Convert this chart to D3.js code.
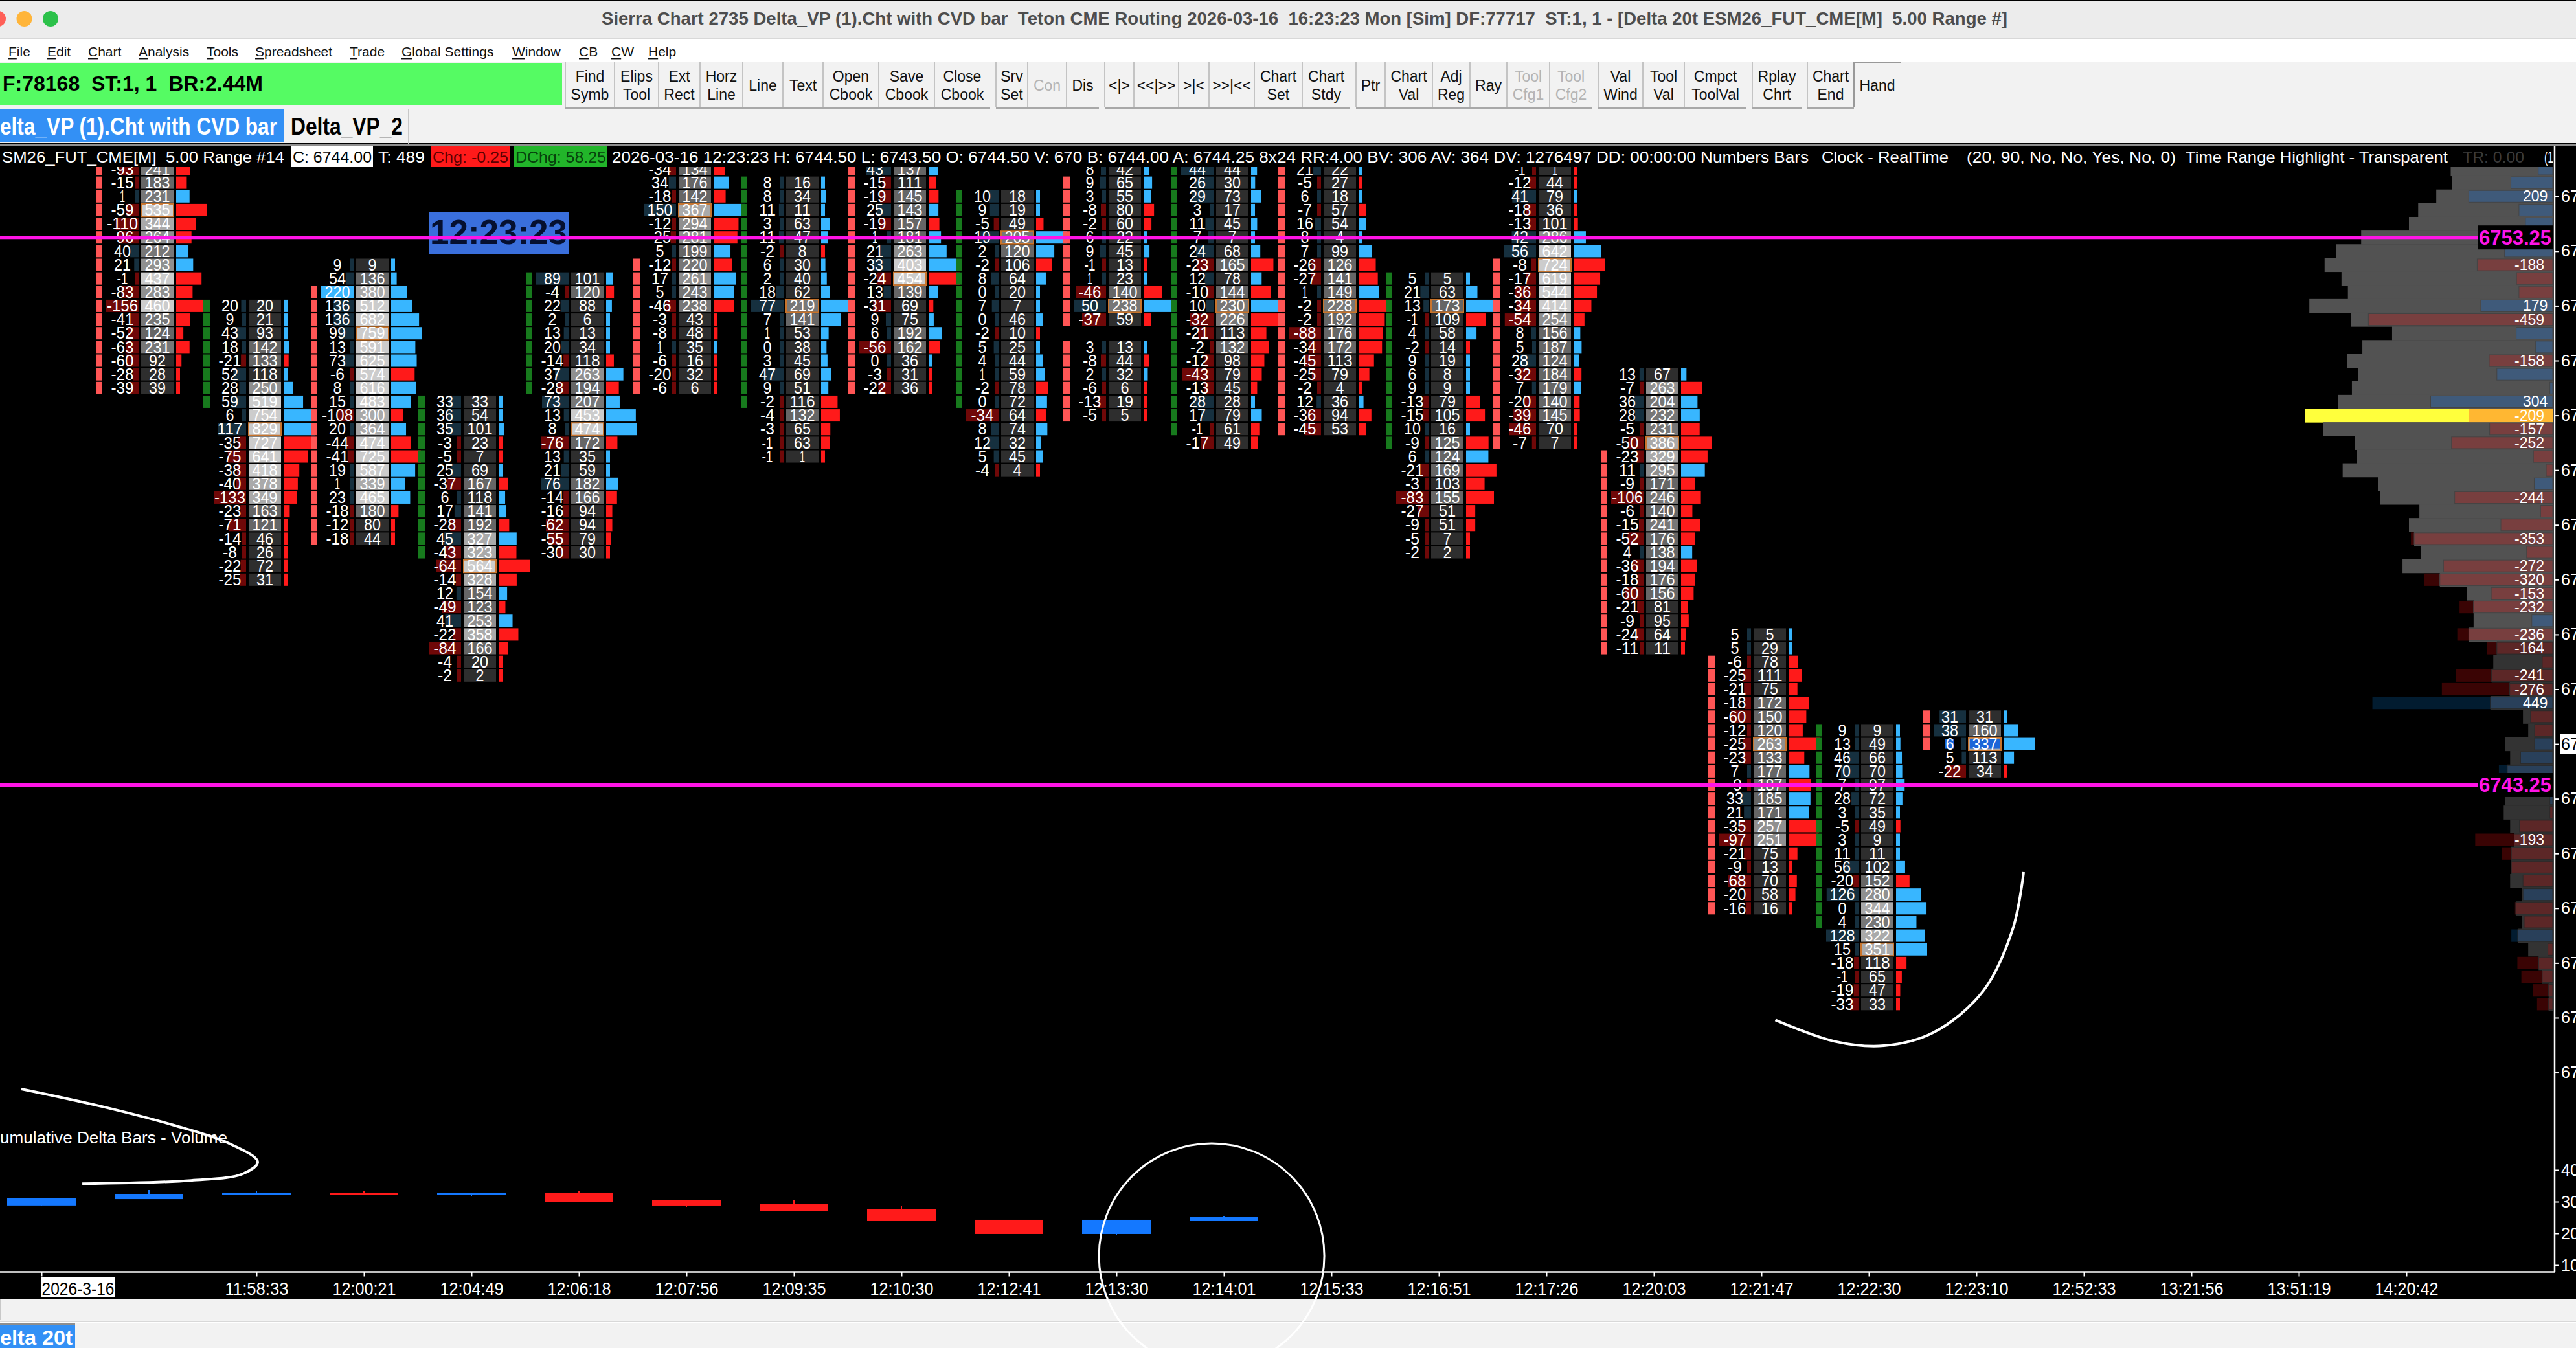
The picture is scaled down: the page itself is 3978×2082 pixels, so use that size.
<!DOCTYPE html>
<html>
<head>
<meta charset="utf-8">
<script src="https://cdn.jsdelivr.net/npm/d3@7"></script>
<style>
  html, body { margin: 0; padding: 0; background: #000; overflow: hidden; }
  svg { display: block; }
  text { font-family: "Liberation Sans", Arial, sans-serif; white-space: pre; }
</style>
</head>
<body>
<script>
// footprint bars, left to right. each list runs down from the bar's top price in 0.25 steps
var barHighs = [6754.5, 6752, 6752.75, 6750.25, 6752.5, 6754.5, 6754.25, 6754.5, 6754, 6754.5, 6754.5, 6754.5, 6752.5, 6754.5, 6750.75, 6746, 6744.25, 6744.5];
var barDeltas = [
  [-93, -15, 1, -59, -110, -96, 40, 21, -1, -83, -156, -41, -52, -63, -60, -28, -39],
  [20, 9, 43, 18, -21, 52, 28, 59, 6, 117, -35, -75, -38, -40, -133, -23, -71, -14, -8, -22, -25],
  [9, 54, 220, 136, 136, 99, 13, 73, -6, 8, 15, -108, 20, -44, -41, 19, 1, 23, -18, -12, -18],
  [33, 36, 35, -3, -5, 25, -37, 6, 17, -28, 45, -43, -64, -14, 12, -49, 41, -22, -84, -4, -2],
  [89, -4, 22, 2, 13, 20, -14, 37, -28, 73, 13, 8, -76, 13, 21, 76, -14, -16, -62, -55, -30],
  [-34, 34, -18, 150, -12, -25, 5, -12, 17, 5, -46, -3, -8, 1, -6, -20, -6],
  [8, 8, 11, 3, 11, -2, 6, 2, 18, 77, 7, 1, 0, 3, 47, 9, -2, -4, -3, -1, -1],
  [43, -15, -19, 25, -19, 1, 21, 33, -24, 13, -31, 9, 6, -56, 0, -3, -22],
  [10, 9, -5, 19, 2, -2, 8, 0, 7, 0, -2, 5, 4, 1, -2, 0, -34, 8, 12, 5, -4],
  [8, 9, 3, -8, -2, 6, 9, -1, 1, -46, 50, -37, null, 3, -8, 2, -6, -13, -5],
  [44, 26, 29, 3, 11, 7, 24, -23, 12, -10, 10, -32, -21, -2, -12, -43, -13, 28, 17, -1, -17],
  [21, -5, 6, -7, 16, 8, 7, -26, -27, 1, -2, -2, -88, -34, -45, -25, -2, 12, -36, -45],
  [5, 21, 13, -1, 4, -2, 9, 6, 9, -13, -15, 10, -9, 6, -21, -3, -83, -27, -9, -5, -2],
  [-1, -12, 41, -18, -13, 42, 56, -8, -17, -36, -34, -54, 8, 5, 28, -32, 7, -20, -39, -46, -7],
  [13, -7, 36, 28, -5, -50, -23, 11, -9, -106, -6, -15, -52, 4, -36, -18, -60, -21, -9, -24, -11],
  [5, 5, -6, -25, -21, -18, -60, -12, -25, -23, 7, -9, 33, 21, -35, -97, -21, -9, -68, -20, -16],
  [9, 13, 46, 70, 7, 28, 3, -5, 3, 11, 56, -20, 126, 0, 4, 128, 15, -18, -1, -19, -33],
  [31, 38, 6, 5, -22]
];
var barVolumes = [
  [241, 183, 231, 535, 344, 264, 212, 293, 437, 283, 460, 235, 124, 231, 92, 28, 39],
  [20, 21, 93, 142, 133, 118, 250, 519, 754, 829, 727, 641, 418, 378, 349, 163, 121, 46, 26, 72, 31],
  [9, 136, 380, 512, 682, 759, 591, 625, 574, 616, 483, 300, 364, 474, 725, 587, 339, 465, 180, 80, 44],
  [33, 54, 101, 23, 7, 69, 167, 118, 141, 192, 327, 323, 564, 328, 154, 123, 253, 358, 166, 20, 2],
  [101, 120, 88, 6, 13, 34, 118, 263, 194, 207, 453, 474, 172, 35, 59, 182, 166, 94, 94, 79, 30],
  [134, 176, 142, 367, 294, 281, 199, 220, 261, 243, 238, 43, 48, 35, 16, 32, 6],
  [16, 34, 11, 63, 47, 8, 30, 40, 62, 219, 141, 53, 38, 45, 69, 51, 116, 132, 65, 63, 1],
  [137, 111, 145, 143, 157, 181, 263, 403, 454, 139, 69, 75, 192, 162, 36, 31, 36],
  [18, 19, 49, 205, 120, 106, 64, 20, 7, 46, 10, 25, 44, 59, 78, 72, 64, 74, 32, 45, 4],
  [42, 65, 55, 80, 60, 22, 45, 13, 23, 140, 238, 59, null, 13, 44, 32, 6, 19, 5],
  [44, 30, 73, 17, 45, 7, 68, 165, 78, 144, 230, 226, 113, 132, 98, 79, 45, 28, 79, 61, 49],
  [22, 27, 18, 57, 54, 4, 99, 126, 141, 149, 228, 192, 176, 172, 113, 79, 4, 36, 94, 53],
  [5, 63, 173, 109, 58, 14, 19, 8, 9, 79, 105, 16, 125, 124, 169, 103, 155, 51, 51, 7, 2],
  [1, 44, 79, 36, 101, 286, 642, 724, 619, 544, 414, 254, 156, 187, 124, 184, 179, 140, 145, 70, 7],
  [67, 263, 204, 232, 231, 386, 329, 295, 171, 246, 140, 241, 176, 138, 194, 176, 156, 81, 95, 64, 11],
  [5, 29, 78, 111, 75, 172, 150, 120, 263, 133, 177, 187, 185, 171, 257, 251, 75, 13, 70, 58, 16],
  [9, 49, 66, 70, 97, 72, 35, 49, 9, 11, 102, 152, 280, 344, 230, 322, 351, 118, 65, 47, 33],
  [31, 160, 337, 113, 34]
];
var barMarkerUp = [false, true, false, true, true, false, true, false, true, false, true, false, true, false, false, false, true, false];
var barMarkerHighs = [6754.5, 6752, 6752.25, 6750.25, 6752.5, 6752.75, 6754.25, 6754.5, 6754, 6754.25, 6754.5, 6754.5, 6752.5, 6752.75, 6749.25, 6745.5, 6744.25, 6744.5];
var barMarkerLows = [6750.5, 6750.25, 6747.75, 6747.5, 6750.5, 6750.5, 6750.25, 6750.5, 6750.25, 6750, 6749.75, 6749.75, 6749.5, 6749.5, 6745.75, 6741, 6740.75, 6744];

// volume profile on the right, running down from vpHigh in 0.25 steps
var vpHigh = 6754.5;
var vpVolumes = [254, 251, 290, 335, 358, 477, 539, 568, 526, 510, 606, 503, 400, 474, 512, 484, 500, 535, 616, 571, 493, 487, 523, 435, 429, 332, 358, 345, 329, 374, 281, 213, 197, 197, 209, 139, 148, 152, 107, 155, 74, 61, 119, 106, 113, 105, 119, 122, 106, 96, 103, 103, 106, 77, 92, 77, 87, 61, 35, 26, 10, 10];
var vpDeltas = [36, 104, 209, 84, 68, 120, 120, -188, -90, -84, 179, -459, 91, 43, -158, 139, 7, 304, -209, -157, -252, -48, -16, 46, -244, -30, -129, -353, -65, -272, -320, -153, -232, 52, -236, -164, -26, -241, -276, 449, -55, -45, 45, 80, 134, 10, 7, -7, -83, -193, -127, -103, -74, 74, -94, -71, 103, -12, -88, -78, -49, -39];

// cumulative delta bars
var cvdOpen = [28.8, 30.8, 32.04, 32.86, 32.04, 32.86, 30.41, 29.18, 27.55, 24.29, 19.8, 23.88];
var cvdClose = [31.2, 32.45, 32.86, 32.04, 32.86, 30, 28.78, 27.14, 23.88, 19.8, 24.29, 25.1];
var cvdHigh = [31.2, 33.67, 33.27, 33.27, 32.86, 33.27, 30.41, 30.41, 28.78, 24.29, 24.29, 25.5];
var cvdLow = [28.8, 30.8, 32.04, 32.04, 31.63, 30, 28.37, 27.14, 23.88, 19.8, 19.39, 23.88];

// axes
var xTickBars = [0, 2, 3, 4, 5, 6, 7, 8, 9, 10, 11, 12, 13, 14, 15, 16, 17, 18, 19, 20, 21, 22];
var xTickLabels = ["2026-3-16", "11:58:33", "12:00:21", "12:04:49", "12:06:18", "12:07:56", "12:09:35", "12:10:30", "12:12:41", "12:13:30", "12:14:01", "12:15:33", "12:16:51", "12:17:26", "12:20:03", "12:21:47", "12:22:30", "12:23:10", "12:52:33", "13:21:56", "13:51:19", "14:20:42"];
var priceTicks = [6754, 6753, 6752, 6751, 6750, 6749, 6748, 6747, 6746, 6745, 6744, 6743, 6742, 6741, 6740, 6739, 6738];
var cvdTicks = [40, 30, 20, 10];
var levelPrices = [6753.25, 6743.25];
var lastPrice = 6744;

// hand drawn marks, as [bar, price]
var noteLeft = [[-0.187, 6737.7], [0.584, 6737.37], [1.229, 6737.04], [1.729, 6736.72], [2.012, 6736.37], [1.873, 6736.15], [1.392, 6736.03], [0.38, 6735.97]];
var noteRight = [[18.44, 6741.66], [18.34, 6740.63], [18.06, 6739.48], [17.6, 6738.73], [17.14, 6738.49], [16.68, 6738.57], [16.13, 6738.96]];
var noteCircle = {bar: 10.886, price: 6734.65, radiusBars: 1.048};

// window furniture
var menuItems = ["File", "Edit", "Chart", "Analysis", "Tools", "Spreadsheet", "Trade", "Global Settings", "Window", "CB", "CW", "Help"];
var menuX = [13, 73, 136, 214, 319, 394, 540, 620, 791, 894, 944, 1001];
var buttonLabels = ["Find|Symb", "Elips|Tool", "Ext|Rect", "Horz|Line", "Line", "Text", "Open|Cbook", "Save|Cbook", "Close|Cbook", "Srv|Set", "Con", "Dis", "<|>", "<<|>>", ">|<", ">>|<<", "Chart|Set", "Chart|Stdy", "Ptr", "Chart|Val", "Adj|Reg", "Ray", "Tool|Cfg1", "Tool|Cfg2", "Val|Wind", "Tool|Val", "Cmpct|ToolVal", "Rplay|Chrt", "Chart|End", "Hand"];
var buttonLeft = [873, 949, 1017, 1081, 1147, 1209, 1271, 1357, 1443, 1538, 1587, 1647, 1706, 1751, 1820, 1867, 1937, 2011, 2094, 2139, 2212, 2270, 2327, 2393, 2468, 2537, 2601, 2706, 2791, 2863];
var buttonRight = [949, 1017, 1081, 1147, 1209, 1271, 1357, 1443, 1529, 1587, 1647, 1697, 1751, 1820, 1867, 1937, 2011, 2085, 2139, 2212, 2270, 2327, 2393, 2459, 2537, 2601, 2697, 2782, 2863, 2935];
var disabledButtons = ["Con", "Tool|Cfg1", "Tool|Cfg2"];

var width = 3978, height = 2082;
var rowH = 21.15;

var svg = d3.select("body").append("svg").attr("width", width).attr("height", height);

// price is one scale for the whole chart, row n sits rowH under the row before
var y = d3.scaleLinear().domain([6753.25, 6743.25]).range([366.7, 1212.5]);
var x = d3.scaleLinear().domain([0, 1]).range([64, 230]);
var cvdY = d3.scaleLinear().domain([10, 40]).range([1954, 1807]);
var vpX = d3.scaleLinear().domain([0, 616]).range([3942, 3560]);
var shade = d3.scaleThreshold().domain([120, 200, 250, 300, 400]).range(["#2e2e2e", "#666666", "#777777", "#909090", "#aaaaaa", "#cccccc"]);

var RED = "#ff1a1a", BLUE = "#38b6ff", DARKRED = "#700808", NAVY = "#16303f", MARKRED = "#ff5555", MARKGREEN = "#177a1d", CVDBLUE = "#1478ff", MAGENTA = "#ff14e6";

function put(g, s, px, py, o) {
  o = o || {};
  var t = g.append("text").attr("x", px).attr("y", py).attr("dy", ".35em").text(s)
    .attr("fill", o.fill || "#fff")
    .style("font-size", (o.size || 24) + "px")
    .style("font-weight", o.bold ? "bold" : "normal");
  if (o.anchor) t.attr("text-anchor", o.anchor);
  if (o.len) t.attr("textLength", o.len).attr("lengthAdjust", "spacingAndGlyphs");
  return t;
}

// the cell numbers are squeezed a little, as the bitmap font is
function cellLen(v) {
  var s = String(Math.abs(v));
  return s.length * 13 + (v < 0 ? 9 : 0) - (s === "1" ? 5 : 0);
}

// --- window chrome -----------------------------------------------------------
svg.append("rect").attr("width", width).attr("height", height).attr("fill", "#000");
svg.append("rect").attr("y", 2).attr("width", width).attr("height", 57).attr("fill", "#ececec");
svg.append("rect").attr("y", 58).attr("width", width).attr("height", 2).attr("fill", "#d8d8d8");
svg.append("rect").attr("y", 60).attr("width", width).attr("height", 36).attr("fill", "#fff");
svg.append("rect").attr("y", 96).attr("width", width).attr("height", 125).attr("fill", "#f2f2f2");
svg.append("rect").attr("y", 222).attr("width", width).attr("height", 4).attr("fill", "#8f8f8f");

var chrome = svg.append("g");
[[-3, "#ff5f57"], [37.5, "#ffb53a"], [78, "#2cc14a"]].forEach(function(c) {
  chrome.append("circle").attr("cx", c[0]).attr("cy", 29).attr("r", 12).attr("fill", c[1]);
});
put(chrome, "Sierra Chart 2735 Delta_VP (1).Cht with CVD bar  Teton CME Routing 2026-03-16  16:23:23 Mon [Sim] DF:77717  ST:1, 1 - [Delta 20t ESM26_FUT_CME[M]  5.00 Range #]", 929, 29, {size: 27, bold: true, fill: "#4d4d4d", len: 2171});

menuItems.forEach(function(m, i) {
  var t = chrome.append("text").attr("x", menuX[i]).attr("y", 80).attr("dy", ".35em").attr("fill", "#111").style("font-size", "21px");
  t.append("tspan").style("text-decoration", "underline").text(m.charAt(0));
  t.append("tspan").text(m.slice(1));
});

chrome.append("rect").attr("y", 97).attr("width", 868).attr("height", 65).attr("fill", "#55fb63");
put(chrome, "F:78168  ST:1, 1  BR:2.44M", 4, 129, {size: 32, bold: true, fill: "#000", len: 402});

buttonLabels.forEach(function(b, i) {
  var l = buttonLeft[i], r = buttonRight[i], hand = b === "Hand";
  var col = disabledButtons.indexOf(b) >= 0 ? "#b4b4b4" : "#111";
  chrome.append("line").attr("x1", l).attr("x2", l).attr("y1", 96).attr("y2", 166).attr("stroke", hand ? "#999" : "#c4c4c4").attr("stroke-width", 2);
  if (hand) {
    chrome.append("rect").attr("x", l).attr("y", 96).attr("width", r - l).attr("height", 2).attr("fill", "#999");
  } else {
    chrome.append("rect").attr("x", l).attr("y", 165).attr("width", r - l).attr("height", 3).attr("fill", "#a8a8a8");
  }
  var lines = b.indexOf("|") >= 0 && b.length > 5 || b === "Ext|Rect" || b === "Srv|Set" || b === "Adj|Reg" ? b.split("|") : [b];
  if (lines.length === 2) {
    put(chrome, lines[0], (l + r) / 2, 118, {size: 23, anchor: "middle", fill: col});
    put(chrome, lines[1], (l + r) / 2, 146, {size: 23, anchor: "middle", fill: col});
  } else {
    put(chrome, lines[0], (l + r) / 2, 132, {size: 23, anchor: "middle", fill: col});
  }
});

chrome.append("rect").attr("y", 169).attr("width", 438).attr("height", 51).attr("fill", "#3390f5");
put(chrome, "elta_VP (1).Cht with CVD bar", 0, 195, {size: 37, bold: true, len: 428});
put(chrome, "Delta_VP_2", 449, 195, {size: 37, bold: true, fill: "#000", len: 173});
chrome.append("rect").attr("x", 630).attr("y", 168).attr("width", 2).attr("height", 54).attr("fill", "#c8c8c8");

// --- header line -------------------------------------------------------------
var head = svg.append("g");
put(head, "SM26_FUT_CME[M]  5.00 Range #14", 3, 243, {len: 436});
head.append("rect").attr("x", 450).attr("y", 226).attr("width", 126).attr("height", 32).attr("fill", "#fff");
put(head, "C: 6744.00", 452, 243, {fill: "#000", len: 122});
put(head, "T: 489", 584, 243, {len: 72});
head.append("rect").attr("x", 666).attr("y", 226).attr("width", 121).attr("height", 32).attr("fill", RED);
put(head, "Chg: -0.25", 668, 243, {fill: "#5a0000", len: 117});
head.append("rect").attr("x", 794).attr("y", 226).attr("width", 144).attr("height", 32).attr("fill", "#22b52a");
put(head, "DChg: 58.25", 796, 243, {fill: "#07420c", len: 140});
put(head, "2026-03-16 12:23:23 H: 6744.50 L: 6743.50 O: 6744.50 V: 670 B: 6744.00 A: 6744.25 8x24 RR:4.00 BV: 306 AV: 364 DV: 1276497 DD: 00:00:00 Numbers Bars", 945, 243, {len: 1848});
put(head, "Clock - RealTime", 2813, 243, {len: 196});
put(head, "(20, 90, No, No, Yes, No, 0)", 3037, 243, {len: 323});
put(head, "Time Range Highlight - Transparent", 3375, 243, {len: 405});
put(head, "TR: 0.00", 3803, 243, {fill: "#3a3a3a", len: 95});
put(head, "(1", 3929, 243, {len: 14});

// --- everything under the header is clipped to the chart region ------------------
svg.append("clipPath").attr("id", "plot").append("rect").attr("x", 0).attr("y", 258).attr("width", 3945).attr("height", 1706);
var plot = svg.append("g").attr("clip-path", "url(#plot)");

// volume profile
var vpRows = vpVolumes.map(function(v, i) {
  return {vol: v, delta: vpDeltas[i], price: vpHigh - i * 0.25};
});
var vpMax = d3.max(vpVolumes);
var vp = plot.append("g").selectAll("g").data(vpRows).enter().append("g");
vp.each(function(d) {
  var g = d3.select(this), top = y(d.price) - rowH / 2, poc = d.vol === vpMax, dim = d.price < 6745.8;
  var up = d.delta > 0, abs = Math.abs(d.delta);
  if (poc) {
    g.append("rect").attr("x", vpX(d.vol)).attr("y", top).attr("width", vpX(0) - vpX(d.vol)).attr("height", rowH + 0.5).attr("fill", "#ffff3c");
    g.append("rect").attr("x", vpX(abs)).attr("y", top).attr("width", vpX(0) - vpX(abs)).attr("height", rowH + 0.5).attr("fill", "#ffb732");
  } else {
    if (abs > d.vol) {
      g.append("rect").attr("x", vpX(abs)).attr("y", top + 1).attr("width", vpX(0) - vpX(abs)).attr("height", rowH - 2).attr("fill", up ? "#021c30" : "#3a0404");
    }
    g.append("rect").attr("x", vpX(d.vol)).attr("y", top).attr("width", vpX(0) - vpX(d.vol)).attr("height", rowH + 0.5).attr("fill", dim ? "#333333" : "#525252");
    var m = Math.min(abs, d.vol);
    g.append("rect").attr("x", vpX(m)).attr("y", top + 1.5).attr("width", vpX(0) - vpX(m)).attr("height", rowH - 3)
      .attr("fill", up ? (dim ? "#29405a" : "#3f5a7a") : (dim ? "#5c2727" : "#783f3f"))
      .attr("stroke", dim ? "#2a2a2a" : "#444").attr("stroke-width", 1);
  }
  if (abs >= 150) {
    put(g, String(d.delta), up ? 3896 : 3883, y(d.price), {size: 23});
  }
});

// footprint bars
var bars = barDeltas.map(function(deltas, b) {
  var vols = barVolumes[b];
  return {
    b: b,
    left: x(b + 1) - 12,
    maxVol: d3.max(vols),
    maxDelta: d3.max(deltas, function(v) { return v === null ? 0 : Math.abs(v); }),
    rows: deltas.map(function(d, r) {
      return {delta: d, vol: vols[r], price: barHighs[b] - r * 0.25};
    })
  };
});

var foot = plot.append("g").attr("class", "footprint");
bars.forEach(function(bar) {
  var g = foot.append("g");
  var L = bar.left;
  var deltaW = d3.scaleLinear().domain([0, bar.maxDelta]).range([0, 50]);
  var volW = d3.scaleLinear().domain([0, bar.maxVol]).range([0, 48]);

  bar.rows.forEach(function(row) {
    if (row.vol === null) return;
    var cy = y(row.price), top = cy - 9.5, neg = row.delta < 0;
    var isLast = bar.b === 17 && row.price === lastPrice;
    var w = Math.max(6, deltaW(Math.abs(row.delta)));
    g.append("rect").attr("x", L - 4 - w).attr("y", top).attr("width", w).attr("height", 19)
      .attr("fill", row.delta >= 200 ? BLUE : (neg ? DARKRED : NAVY));
    g.append("rect").attr("x", L).attr("y", top).attr("width", 50).attr("height", 19).attr("fill", shade(row.vol));
    var v = Math.max(6, volW(row.vol));
    g.append("rect").attr("x", L + 54).attr("y", top).attr("width", v).attr("height", 19).attr("fill", neg ? RED : BLUE);
    if (row.vol === bar.maxVol) {
      if (isLast) g.append("rect").attr("x", L + 2).attr("y", top + 2).attr("width", 46).attr("height", 15).attr("fill", "#1a66d8");
      g.append("rect").attr("x", L).attr("y", top).attr("width", 50).attr("height", 19.5).attr("fill", "none").attr("stroke", "#c8742c").attr("stroke-width", 2);
    }
    if (isLast) g.append("rect").attr("x", L - 36).attr("y", top + 2).attr("width", 14).attr("height", 15).attr("fill", "#1a66d8");
    put(g, String(row.delta), L - 29, cy, {size: 25, anchor: "middle", len: cellLen(row.delta)});
    put(g, String(row.vol), L + 25, cy, {size: 25, anchor: "middle", len: cellLen(row.vol)});
  });
});
// the coloured markers sit over the previous bar's profile
bars.forEach(function(bar) {
  var g = foot.append("g");
  bar.rows.forEach(function(row) {
    if (row.vol === null) return;
    if (row.price > barMarkerHighs[bar.b] || row.price < barMarkerLows[bar.b]) return;
    g.append("rect").attr("x", bar.left - 70).attr("y", y(row.price) - 9.5).attr("width", 10).attr("height", 19)
      .attr("fill", barMarkerUp[bar.b] ? MARKGREEN : MARKRED);
  });
});

// clock
plot.append("rect").attr("x", 662).attr("y", 328).attr("width", 216).attr("height", 64).attr("fill", "#3a6fdc");
put(plot, "12:23:23", 770, 358, {size: 54, bold: true, fill: "#051030", anchor: "middle", len: 212});

// study name
put(plot, "umulative Delta Bars - Volume", 0, 1757, {size: 26, len: 351});

// cumulative delta
var cvd = plot.append("g").selectAll("g").data(cvdOpen).enter().append("g");
cvd.append("line")
  .attr("x1", function(d, i) { return x(i); })
  .attr("x2", function(d, i) { return x(i); })
  .attr("y1", function(d, i) { return cvdY(cvdHigh[i]); })
  .attr("y2", function(d, i) { return cvdY(cvdLow[i]); })
  .attr("stroke", function(d, i) { return cvdClose[i] > d ? CVDBLUE : RED; })
  .attr("stroke-width", 2);
cvd.append("rect")
  .attr("x", function(d, i) { return x(i) - 53; })
  .attr("width", 106)
  .attr("y", function(d, i) { return cvdY(Math.max(d, cvdClose[i])); })
  .attr("height", function(d, i) { return Math.abs(cvdY(d) - cvdY(cvdClose[i])); })
  .attr("fill", function(d, i) { return cvdClose[i] > d ? CVDBLUE : RED; });

// price levels
levelPrices.forEach(function(p) {
  plot.append("line").attr("x1", 0).attr("x2", 3828).attr("y1", y(p)).attr("y2", y(p)).attr("stroke", MAGENTA).attr("stroke-width", 5);
  plot.append("rect").attr("x", 3826).attr("y", y(p) - 18.5).attr("width", 116).attr("height", 37).attr("fill", "#000");
  put(plot, p.toFixed(2), 3884, y(p), {size: 31, bold: true, fill: MAGENTA, anchor: "middle"});
});

// --- axes --------------------------------------------------------------------
svg.append("rect").attr("x", x(xTickBars[0])).attr("y", 1972).attr("width", 114).attr("height", 31).attr("fill", "#fff");
svg.append("rect").attr("x", 3954).attr("y", y(lastPrice) - 15.5).attr("width", 24).attr("height", 31).attr("fill", "#fff");

var xAxis = d3.axisBottom(x).tickValues(xTickBars).tickSize(7).tickPadding(9)
  .tickFormat(function(d, i) { return xTickLabels[i]; });
var xg = svg.append("g").attr("transform", "translate(0,1964.5)").call(xAxis);
xg.select(".domain").remove();
xg.selectAll("line").attr("stroke", "#fff").attr("stroke-width", 2);
xg.selectAll("text").attr("fill", "#fff").style("font-size", "28px").attr("textLength", 98).attr("lengthAdjust", "spacingAndGlyphs");
xg.selectAll("text").filter(function(d) { return d === 0; })
  .attr("fill", "#000").attr("text-anchor", "start").attr("textLength", 112);

var pAxis = d3.axisRight(y).tickValues(priceTicks).tickSize(7).tickPadding(3).tickFormat(function() { return "67"; });
var pg = svg.append("g").attr("transform", "translate(3945,0)").call(pAxis);
pg.select(".domain").remove();
var cAxis = d3.axisRight(cvdY).tickValues(cvdTicks).tickSize(7).tickPadding(3);
var cg = svg.append("g").attr("transform", "translate(3945,0)").call(cAxis);
cg.select(".domain").remove();
[pg, cg].forEach(function(g) {
  g.selectAll("line").attr("stroke", "#fff").attr("stroke-width", 2);
  g.selectAll("text").attr("fill", "#fff").style("font-size", "25px");
});
pg.selectAll("text").filter(function(d) { return d === lastPrice; }).attr("fill", "#000");

svg.append("line").attr("x1", 0).attr("x2", 3946).attr("y1", 1964.5).attr("y2", 1964.5).attr("stroke", "#fff").attr("stroke-width", 2.5);
svg.append("line").attr("x1", 3945).attr("x2", 3945).attr("y1", 226).attr("y2", 1965).attr("stroke", "#fff").attr("stroke-width", 2.5);

// --- bottom strip ------------------------------------------------------------
svg.append("rect").attr("y", 2006).attr("width", width).attr("height", 76).attr("fill", "#f2f2f2");
svg.append("rect").attr("y", 2040).attr("width", width).attr("height", 2).attr("fill", "#d8d8d8");
svg.append("rect").attr("y", 2042).attr("width", width).attr("height", 2).attr("fill", "#fff");
svg.append("rect").attr("x", 0).attr("y", 2007).attr("width", 2).attr("height", 32).attr("fill", "#c8c8c8");
svg.append("rect").attr("y", 2044).attr("width", 116).attr("height", 2).attr("fill", "#8f8f8f");
svg.append("rect").attr("y", 2046).attr("width", 116).attr("height", 36).attr("fill", "#3390f5");
put(svg, "elta 20t", 0, 2066, {size: 32, bold: true, len: 112});

// --- hand drawn notes on top of it all ----------------------------------------
var note = d3.line()
  .x(function(d) { return x(d[0]); })
  .y(function(d) { return y(d[1]); })
  .curve(d3.curveCatmullRom);
svg.append("path").attr("d", note(noteLeft)).attr("fill", "none").attr("stroke", "#fff").attr("stroke-width", 4);
svg.append("path").attr("d", note(noteRight)).attr("fill", "none").attr("stroke", "#fff").attr("stroke-width", 4);
svg.append("circle")
  .attr("cx", x(noteCircle.bar)).attr("cy", y(noteCircle.price))
  .attr("r", x(noteCircle.radiusBars) - x(0))
  .attr("fill", "none").attr("stroke", "#fff").attr("stroke-width", 3);
</script>
</body>
</html>
